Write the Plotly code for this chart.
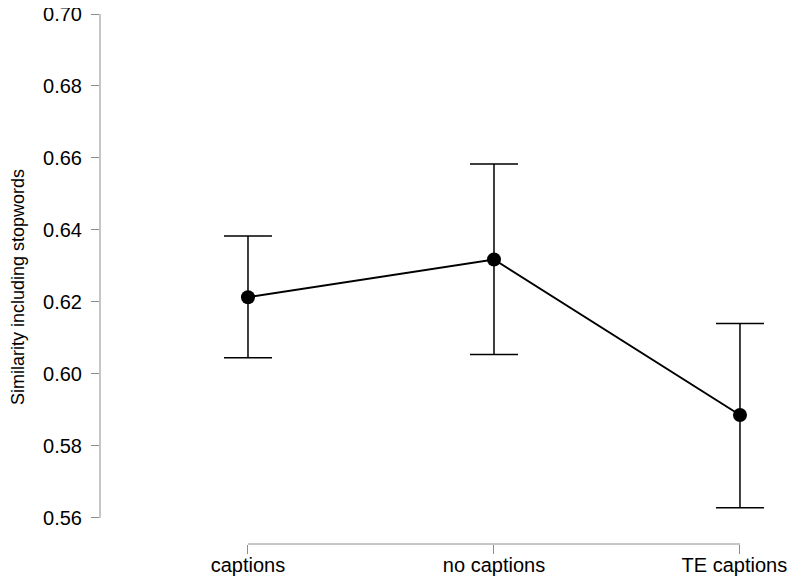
import plotly.graph_objects as go

categories = ["captions", "no captions", "TE captions"]
means = [0.6213, 0.6318, 0.5886]
upper = [0.6383, 0.6583, 0.6140]
lower = [0.6045, 0.6054, 0.5628]
y_ticks = [0.56, 0.58, 0.60, 0.62, 0.64, 0.66, 0.68, 0.70]

xpos = [1, 2, 3]
err_plus = [u - m for u, m in zip(upper, means)]
err_minus = [m - l for m, l in zip(means, lower)]

font = "Liberation Sans, Arial, Helvetica, sans-serif"
gray = "#8c8c8c"

# page body has an 8px default margin: figure is sized/placed to compensate
W, H = 787, 573
L, T, B, R = 92, 2, 37, 10
plot_w = W - L - R
plot_h = H - T - B

# last label padded with non-breaking spaces so it stays inside the visible page
tick_text = categories[:-1] + [categories[-1] + "\u00a0\u00a0"]

fig = go.Figure()
fig.add_trace(go.Scatter(
    x=xpos, y=means, mode="lines+markers",
    line=dict(color="black", width=2),
    marker=dict(color="black", size=14),
    error_y=dict(type="data", symmetric=False, array=err_plus, arrayminus=err_minus,
                 color="black", thickness=1.5, width=24),
    showlegend=False, cliponaxis=False,
))

fig.update_layout(
    width=W, height=H,
    margin=dict(l=L, r=R, t=T, b=B),
    paper_bgcolor="white", plot_bgcolor="white",
    font=dict(family=font, size=20, color="black"),
    xaxis=dict(range=[0.3984, 3.183], tickvals=xpos, ticktext=tick_text,
               showgrid=False, zeroline=False, showline=False, automargin=False,
               ticks="outside", ticklen=9, tickcolor=gray, tickwidth=1,
               ticklabelstandoff=-6, ticklabeloverflow="allow",
               tickfont=dict(size=20, family=font)),
    yaxis=dict(range=[0.55276, 0.70111], tickvals=y_ticks,
               ticktext=[f"{v:.2f}" for v in y_ticks],
               showgrid=False, zeroline=False, showline=False, automargin=False,
               ticks="outside", ticklen=8, tickcolor=gray, tickwidth=1,
               ticklabelstandoff=5, ticklabeloverflow="allow",
               tickfont=dict(size=20, family=font)),
    shapes=[
        dict(type="line", xref="paper", yref="y", x0=0, x1=0, y0=y_ticks[0], y1=y_ticks[-1],
             line=dict(color=gray, width=1)),
        dict(type="line", xref="x", yref="paper", x0=xpos[0], x1=xpos[-1], y0=0, y1=0,
             line=dict(color=gray, width=1)),
    ],
    annotations=[
        dict(text="Similarity including stopwords", xref="paper", yref="paper",
             x=(10 - L) / plot_w, y=(H - B - 279) / plot_h, xanchor="center", yanchor="middle",
             textangle=-90, showarrow=False, font=dict(size=18, family=font)),
    ],
)

fig.write_html("out.html")
